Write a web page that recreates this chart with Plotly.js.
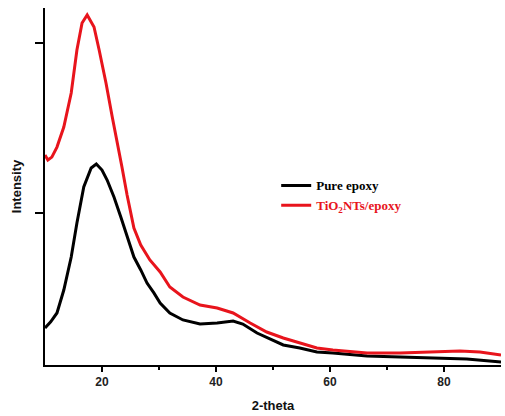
<!DOCTYPE html>
<html>
<head>
<meta charset="utf-8">
<script src="https://cdn.plot.ly/plotly-3.0.1.min.js"></script>
<style>html,body{margin:0;padding:0;background:#fff;}#chart{width:505px;height:416px;}</style>
</head>
<body>
<div id="chart"></div>
<script>
// 2-theta values and intensities (arbitrary units)
const pureTheta = [10.0,11.0,12.1,13.3,14.6,15.6,16.8,18.1,19.0,20.0,20.9,22.1,23.3,24.4,25.6,26.8,27.9,29.1,30.2,31.9,34.2,37.2,40.2,43.0,44.7,47.2,49.0,51.8,54.7,57.7,60.5,66.5,72.3,78.1,84.0,90.0];
const pureInt   = [0.324,0.360,0.412,0.547,0.741,0.941,1.153,1.265,1.288,1.253,1.194,1.094,0.977,0.859,0.741,0.665,0.588,0.530,0.471,0.412,0.371,0.347,0.353,0.365,0.347,0.294,0.265,0.224,0.206,0.182,0.177,0.159,0.153,0.147,0.141,0.124];

const tioTheta = [10.0,10.5,11.2,12.1,13.3,14.6,15.6,16.5,17.4,18.6,19.5,20.7,21.8,23.0,23.5,24.4,25.6,26.8,28.4,30.2,31.9,34.2,37.2,40.2,43.0,46.0,48.9,51.8,54.7,57.7,60.5,66.5,72.3,78.1,82.8,86.3,90.0];
const tioInt   = [1.341,1.312,1.329,1.388,1.506,1.706,1.959,2.118,2.165,2.094,1.959,1.765,1.565,1.371,1.271,1.106,0.912,0.812,0.724,0.653,0.565,0.506,0.459,0.441,0.412,0.353,0.300,0.265,0.235,0.206,0.194,0.177,0.177,0.182,0.188,0.182,0.165];

const seriesNames = ['Pure epoxy', '<span style="color:#e8141c">TiO<sub>2</sub>NTs/epoxy</span>'];
const xTickVals = [20, 40, 60, 80];
const yTickVals = [1, 2];

const traces = [
  {x: pureTheta, y: pureInt, name: seriesNames[0], type: 'scatter', mode: 'lines',
   line: {color: '#000000', width: 3, shape: 'linear'}},
  {x: tioTheta, y: tioInt, name: seriesNames[1], type: 'scatter', mode: 'lines',
   line: {color: '#e8141c', width: 3, shape: 'linear'}}
];

const layout = {
  width: 505, height: 416,
  margin: {l: 45, r: 4, t: 8, b: 51},
  paper_bgcolor: '#fff', plot_bgcolor: '#fff',
  showlegend: true,
  legend: {x: 0.507, y: 0.545, xanchor: 'left', yanchor: 'top', bgcolor: 'rgba(0,0,0,0)',
           font: {family: 'Liberation Serif', size: 13, color: '#000', weight: 'bold'},
           tracegroupgap: 0},
  xaxis: {range: [10, 90], tickmode: 'array', tickvals: xTickVals, ticktext: xTickVals.map(String),
          ticks: 'outside', ticklen: 5, tickwidth: 2, tickcolor: '#000',
          minor: {tickmode: 'array', tickvals: [30, 50, 70], ticks: 'outside', ticklen: 3, tickwidth: 2, tickcolor: '#000'},
          showline: true, linecolor: '#000', linewidth: 2, showgrid: false, zeroline: false,
          tickfont: {family: 'Liberation Sans', size: 12, color: '#222', weight: 'bold'},
          title: {text: '2-theta', font: {family: 'Liberation Sans', size: 13, color: '#111', weight: 'bold'}, standoff: 12}},
  yaxis: {range: [0.106, 2.206], tickmode: 'array', tickvals: yTickVals, showticklabels: false,
          ticks: 'outside', ticklen: 8, tickwidth: 2, tickcolor: '#000',
          showline: true, linecolor: '#000', linewidth: 2, showgrid: false, zeroline: false,
          title: {text: 'Intensity', font: {family: 'Liberation Sans', size: 13, color: '#111', weight: 'bold'}, standoff: 10}}
};

Plotly.newPlot('chart', traces, layout, {displayModeBar: false, staticPlot: true});
</script>
</body>
</html>
